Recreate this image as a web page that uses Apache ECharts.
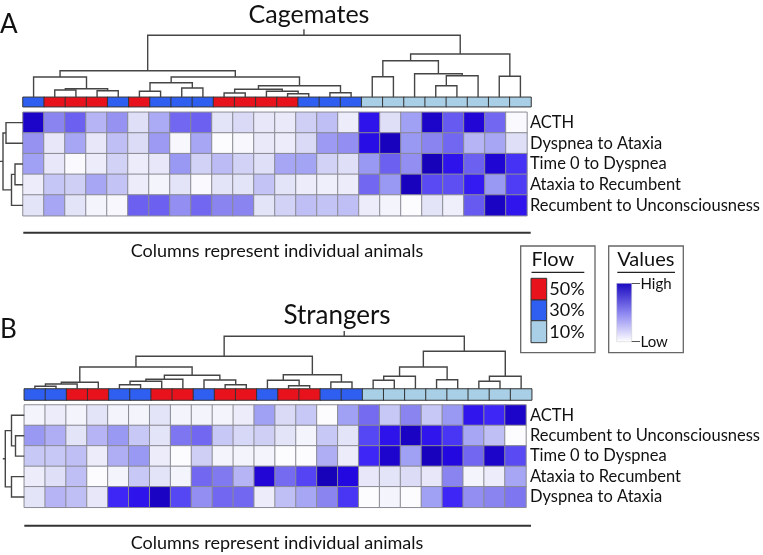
<!DOCTYPE html>
<html><head><meta charset="utf-8">
<script src="https://cdn.jsdelivr.net/npm/echarts@6/dist/echarts.min.js"></script>
<style>html,body{margin:0;padding:0;background:#fff}#c{width:763px;height:555px}</style>
</head><body><div id="c"></div>
<script>
// ---------- DATA ----------
const animals = ['1','2','3','4','5','6','7','8','9','10','11','12','13','14','15','16','17','18','19','20','21','22','23','24'];

const rowsA = ['ACTH','Dyspnea to Ataxia','Time 0 to Dyspnea','Ataxia to Recumbent','Recumbent to Unconsciousness'];
const rowsB = ['ACTH','Recumbent to Unconsciousness','Time 0 to Dyspnea','Ataxia to Recumbent','Dyspnea to Ataxia'];

// Cagemates (scaled 0 = low, 1 = high)
const a_ACTH    = [0.95,0.5,0.6,0.3,0.45,0.12,0.35,0.58,0.6,0.1,0.14,0.09,0.08,0.18,0.25,0.07,0.85,0.12,0.4,0.95,0.62,0.92,0.58,0.02];
const a_DysAtx  = [0.45,0.09,0.37,0.09,0.25,0.13,0.42,0.03,0.37,0.01,0.03,0.08,0.07,0.14,0.42,0.46,0.88,0.97,0.43,0.5,0.58,0.3,0.37,0.12];
const a_T0Dys   = [0.4,0.09,0.02,0.07,0.17,0.07,0.09,0.43,0.17,0.27,0.17,0.12,0.37,0.38,0.17,0.12,0.43,0.6,0.46,0.98,0.85,0.6,0.93,0.75];
const a_AtxRec  = [0.07,0.22,0.18,0.37,0.23,0.07,0.04,0.1,0.02,0.1,0.1,0.23,0.1,0.07,0.06,0.07,0.58,0.43,0.97,0.68,0.66,0.82,0.43,0.72];
const a_RecUnc  = [0.1,0.37,0.1,0.04,0.03,0.6,0.6,0.46,0.58,0.5,0.5,0.1,0.17,0.25,0.23,0.25,0.07,0.04,0.01,0.1,0.06,0.62,0.96,0.84];

// Strangers
const b_ACTH    = [0.04,0.07,0.04,0.1,0.04,0.04,0.1,0.04,0.04,0.04,0.07,0.4,0.14,0.21,0.01,0.4,0.57,0.21,0.5,0.21,0.43,0.84,0.78,0.95];
const b_RecUnc  = [0.43,0.33,0.1,0.3,0.43,0.21,0.1,0.54,0.58,0.21,0.15,0.18,0.1,0.04,0.21,0.1,0.69,0.85,0.96,0.84,0.74,0.37,0.25,0.01];
const b_T0Dys   = [0.21,0.21,0.25,0.07,0.33,0.43,0.07,0.01,0.18,0.04,0.04,0.04,0.01,0.01,0.33,0.07,0.78,0.94,0.4,0.97,0.9,0.58,0.95,0.68];
const b_AtxRec  = [0.07,0.12,0.25,0.01,0.04,0.21,0.1,0.04,0.58,0.53,0.3,0.92,0.57,0.7,0.98,0.9,0.09,0.1,0.13,0.09,0.5,0.04,0.07,0.37];
const b_DysAtx  = [0.1,0.3,0.25,0.09,0.78,0.85,0.96,0.69,0.46,0.58,0.58,0.07,0.25,0.37,0.5,0.74,0.01,0.04,0.01,0.4,0.78,0.46,0.5,0.54];

// Flow rate (%) per animal
const flowA = [30,50,50,50,30,50,30,30,30,50,50,50,50,30,30,30,10,10,10,10,10,10,10,10];
const flowB = [30,30,50,50,30,30,50,50,30,50,50,30,50,50,30,30,10,10,10,10,10,10,10,10];
const flowLevels = ['50%','30%','10%'];

// Clustering trees: [left, right, mergeHeight]; leaves are column / row indices
const colTreeA = [
  [ [0, [[1,2,7.3],[3,4,6.6],8.6], 20.3],
    [ [[5,6,6],[7,8,9.3],14.6],
      [[[9,10,4.3],[11,[12,13,3.6],6],8],[14,15,4.6],11.6],
      20.3 ],
    26.6 ],
  [ [[16,17,20.6],[18,[[19,20,11.6],21,21.6],23.6],36.6],
    [22,23,21],
    43.3 ],
  62 ];
const colTreeB = [
  [ [ [[[0,1,2.7],2,5],3,6.7],
      [[[[4,5,4.3],6,7.7],7,9.7],[8,[9,10,4.3],9],13.7],
      22 ],
    [[11,[12,13,3.3],8.7],[14,15,7],14.3],
    32.7 ],
  [ [[[16,17,8.7],18,12.7],[19,20,9.3],22],
    [[21,22,7.7],23,12.7],
    37.7 ],
  52.7 ];
const rowTreeA = [[0,1,17],[[2,3,8],4,11.5],20];
const rowTreeB = [[0,[1,2,8.8],12.8],[3,4,12.8],19];

// ---------- BUILD ----------
const heatColors = ['#ffffff','#e4e4f8','#cacaf6','#b6b4f4','#a0a0f4','#8a84f0','#6c60f0','#5444f4','#3820f6','#2408e0','#1400b0'];
function heatData(rows){const d=[];rows.forEach((r,ri)=>r.forEach((v,ci)=>d.push([ci,ri,v])));return d;}
function flowData(f){return f.map((v,i)=>[i,0,v]);}
function dendro(tree, stem, horizontal){
  const segs=[];
  function walk(n){
    if(typeof n==='number') return {p:n,h:0};
    const A=walk(n[0]),B=walk(n[1]),h=n[2];
    segs.push([[A.p,A.h],[A.p,h],[B.p,h],[B.p,B.h]]);
    return {p:(A.p+B.p)/2,h:h};
  }
  const r=walk(tree);
  segs.push([[r.p,r.h],[r.p,stem]]);
  return segs.map(s=>({coords: horizontal ? s.map(q=>[q[1],q[0]]) : s}));
}
const FONT='Lato';
const lineStyle={color:'#454545',width:1.4,opacity:1};
const hid={show:false};
function hiddenAxis(o){return Object.assign({axisLine:hid,axisTick:hid,axisLabel:hid,splitLine:hid},o);}

const option={
  animation:false,
  textStyle:{fontFamily:FONT},
  title:[
    {text:'Cagemates',left:304,top:10,textAlign:'center',textVerticalAlign:'middle',textStyle:{fontFamily:FONT,fontSize:25,fontWeight:'normal',color:'#111'}},
    {text:'Strangers',left:332,top:311,textAlign:'center',textVerticalAlign:'middle',textStyle:{fontFamily:FONT,fontSize:26,fontWeight:'normal',color:'#111'}}
  ],
  grid:[
    {left:23,top:112.3,width:508,height:103.4},   //0 heat A
    {left:23,top:97.3,width:508,height:9.4},      //1 flow A
    {left:23,top:25.3,width:508,height:72},       //2 col dendro A
    {left:0,top:112.3,width:23,height:103.4},     //3 row dendro A
    {left:24.3,top:405,width:507.4,height:102.3}, //4 heat B
    {left:24.3,top:389,width:507.4,height:11},    //5 flow B
    {left:24.3,top:320,width:507.4,height:69},    //6 col dendro B
    {left:0,top:405,width:24.3,height:102.3}      //7 row dendro B
  ],
  xAxis:[
    hiddenAxis({gridIndex:0,type:'category',data:animals}),
    hiddenAxis({gridIndex:1,type:'category',data:animals}),
    hiddenAxis({gridIndex:2,type:'value',min:-0.5,max:23.5}),
    hiddenAxis({gridIndex:3,type:'value',min:0,max:23,inverse:true}),
    hiddenAxis({gridIndex:4,type:'category',data:animals}),
    hiddenAxis({gridIndex:5,type:'category',data:animals}),
    hiddenAxis({gridIndex:6,type:'value',min:-0.5,max:23.5}),
    hiddenAxis({gridIndex:7,type:'value',min:0,max:24.3,inverse:true})
  ],
  yAxis:[
    {gridIndex:0,type:'category',data:rowsA,inverse:true,position:'right',axisLine:hid,axisTick:hid,splitLine:hid,
      axisLabel:{interval:0,hideOverlap:false,fontFamily:FONT,fontSize:16.5,color:'#111',margin:3}},
    hiddenAxis({gridIndex:1,type:'category',data:['Flow']}),
    hiddenAxis({gridIndex:2,type:'value',min:0,max:72}),
    hiddenAxis({gridIndex:3,type:'value',min:-0.5,max:4.5,inverse:true}),
    {gridIndex:4,type:'category',data:rowsB,inverse:true,position:'right',axisLine:hid,axisTick:hid,splitLine:hid,
      axisLabel:{interval:0,hideOverlap:false,fontFamily:FONT,fontSize:16.5,color:'#111',margin:4}},
    hiddenAxis({gridIndex:5,type:'category',data:['Flow']}),
    hiddenAxis({gridIndex:6,type:'value',min:0,max:69}),
    hiddenAxis({gridIndex:7,type:'value',min:-0.5,max:4.5,inverse:true})
  ],
  visualMap:[
    {type:'continuous',show:false,min:0,max:1,dimension:2,seriesIndex:[0,4],inRange:{color:heatColors}},
    {type:'piecewise',show:false,dimension:2,seriesIndex:[1,5],
      pieces:[{value:50,color:'#e8121c'},{value:30,color:'#2f5ff0'},{value:10,color:'#a9cfe6'}]}
  ],
  series:[
    {type:'heatmap',xAxisIndex:0,yAxisIndex:0,data:heatData([a_ACTH,a_DysAtx,a_T0Dys,a_AtxRec,a_RecUnc]),
      itemStyle:{borderColor:'#8a8a94',borderWidth:1}},
    {type:'heatmap',xAxisIndex:1,yAxisIndex:1,data:flowData(flowA),itemStyle:{borderColor:'#333',borderWidth:1}},
    {type:'lines',coordinateSystem:'cartesian2d',xAxisIndex:2,yAxisIndex:2,polyline:true,data:dendro(colTreeA,68,false),lineStyle:lineStyle,silent:true},
    {type:'lines',coordinateSystem:'cartesian2d',xAxisIndex:3,yAxisIndex:3,polyline:true,data:dendro(rowTreeA,23,true),lineStyle:lineStyle,silent:true},
    {type:'heatmap',xAxisIndex:4,yAxisIndex:4,data:heatData([b_ACTH,b_RecUnc,b_T0Dys,b_AtxRec,b_DysAtx]),
      itemStyle:{borderColor:'#8a8a94',borderWidth:1}},
    {type:'heatmap',xAxisIndex:5,yAxisIndex:5,data:flowData(flowB),itemStyle:{borderColor:'#333',borderWidth:1}},
    {type:'lines',coordinateSystem:'cartesian2d',xAxisIndex:6,yAxisIndex:6,polyline:true,data:dendro(colTreeB,58,false),lineStyle:lineStyle,silent:true},
    {type:'lines',coordinateSystem:'cartesian2d',xAxisIndex:7,yAxisIndex:7,polyline:true,data:dendro(rowTreeB,21.5,true),lineStyle:lineStyle,silent:true}
  ],
  graphic:[
    {type:'text',left:0,top:12,style:{text:'A',font:'26px Lato',fill:'#111'}},
    {type:'text',left:0,top:317,style:{text:'B',font:'26px Lato',fill:'#111'}},
    {type:'line',shape:{x1:23.3,y1:232.7,x2:530.7,y2:232.7},style:{stroke:'#333',lineWidth:2}},
    {type:'text',x:277,y:251,style:{text:'Columns represent individual animals',font:'18px Lato',fill:'#111',align:'center',verticalAlign:'middle'}},
    {type:'line',shape:{x1:24.3,y1:525.7,x2:531,y2:525.7},style:{stroke:'#333',lineWidth:2}},
    {type:'text',x:277,y:543.5,style:{text:'Columns represent individual animals',font:'18px Lato',fill:'#111',align:'center',verticalAlign:'middle'}},
    // Flow legend
    {type:'rect',shape:{x:520.7,y:246,width:74.3,height:106.7},style:{fill:'none',stroke:'#666',lineWidth:1.3}},
    {type:'text',x:531.5,y:260,style:{text:'Flow',font:'20px Lato',fill:'#111',verticalAlign:'middle'}},
    {type:'line',shape:{x1:531.5,y1:272.3,x2:584.3,y2:272.3},style:{stroke:'#222',lineWidth:1.3}},
    {type:'rect',shape:{x:531,y:278.3,width:15.7,height:21.7},style:{fill:'#e8121c',stroke:'#333',lineWidth:1}},
    {type:'rect',shape:{x:531,y:300,width:15.7,height:20.7},style:{fill:'#2f5ff0',stroke:'#333',lineWidth:1}},
    {type:'rect',shape:{x:531,y:320.7,width:15.7,height:22},style:{fill:'#a9cfe6',stroke:'#333',lineWidth:1}},
    {type:'text',x:549.3,y:289.5,style:{text:flowLevels[0],font:'18px Lato',fill:'#111',verticalAlign:'middle'}},
    {type:'text',x:549.3,y:310.5,style:{text:flowLevels[1],font:'18px Lato',fill:'#111',verticalAlign:'middle'}},
    {type:'text',x:549.3,y:332,style:{text:flowLevels[2],font:'18px Lato',fill:'#111',verticalAlign:'middle'}},
    // Values legend
    {type:'rect',shape:{x:608.7,y:246,width:74.6,height:106.7},style:{fill:'none',stroke:'#666',lineWidth:1.3}},
    {type:'text',x:617.3,y:260,style:{text:'Values',font:'20px Lato',fill:'#111',verticalAlign:'middle'}},
    {type:'line',shape:{x1:617.3,y1:272.3,x2:675,y2:272.3},style:{stroke:'#222',lineWidth:1.3}},
    {type:'rect',shape:{x:616.7,y:283.3,width:15,height:58.4},
      style:{fill:new echarts.graphic.LinearGradient(0,0,0,1,[{offset:0,color:'#1a08c0'},{offset:0.5,color:'#8a84f0'},{offset:1,color:'#ffffff'}]),stroke:'#ccc',lineWidth:0.5}},
    {type:'line',shape:{x1:631.7,y1:283.5,x2:640,y2:283.5},style:{stroke:'#555',lineWidth:1}},
    {type:'line',shape:{x1:631.7,y1:341.5,x2:640,y2:341.5},style:{stroke:'#555',lineWidth:1}},
    {type:'text',x:640.5,y:284.5,style:{text:'High',font:'15px Lato',fill:'#111',verticalAlign:'middle'}},
    {type:'text',x:640.5,y:342,style:{text:'Low',font:'15px Lato',fill:'#111',verticalAlign:'middle'}}
  ]
};
const chart=echarts.init(document.getElementById('c'),null,{renderer:'canvas'});
chart.setOption(option);
</script>
</body></html>
